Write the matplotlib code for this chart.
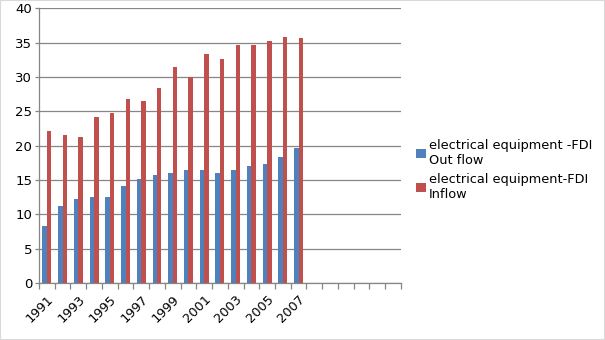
#!/usr/bin/env python3
"""Electrical equipment FDI out/in flow, clustered bars."""
import numpy as np
import matplotlib
matplotlib.use('Agg')
import matplotlib.pyplot as plt
from matplotlib.patches import Rectangle

years = [str(y) for y in range(1991, 2008)] + [''] * 6
outflow = [8.3, 11.2, 12.3, 12.6, 12.5, 14.2, 15.2, 15.7, 16.0, 16.4, 16.4,
           16.0, 16.5, 17.0, 17.3, 18.3, 19.7]
inflow = [22.2, 21.6, 21.3, 24.2, 24.8, 26.8, 26.5, 28.4, 31.4, 30.0, 33.3,
          32.6, 34.6, 34.6, 35.2, 35.8, 35.6]
labels = ['electrical equipment -FDI\nOut flow',
          'electrical equipment-FDI\nInflow']

BLUE = '#4F81BD'
RED = '#C0504D'
GRID = '#868686'

fig = plt.figure(figsize=(6.05, 3.4), dpi=100)
ax = fig.add_axes([0.0645, 0.167, 0.598, 0.809])

n = len(years)
x = np.arange(n)
w = 1 / 3.5
ax.bar(x[:len(outflow)] - w / 2, outflow, w, color=BLUE, label=labels[0], zorder=3)
ax.bar(x[:len(inflow)] + w / 2, inflow, w, color=RED, label=labels[1], zorder=3)

ax.set_xlim(-0.5, n - 0.5)
ax.set_ylim(0, 40)
ax.set_yticks(range(0, 41, 5))
ax.yaxis.grid(True, color=GRID, lw=0.9, zorder=0)

ax.set_xticks(x[::2])
ax.set_xticklabels(years[::2], rotation=45, ha='right', rotation_mode='anchor')
ax.set_xticks(np.arange(-0.5, n, 1), minor=True)
ax.tick_params(axis='x', which='major', length=0, labelsize=9.3, pad=7)
ax.tick_params(axis='x', which='minor', length=4, color=GRID, width=0.9)
ax.tick_params(axis='y', length=3, color=GRID, width=0.9, labelsize=9.5, pad=2)

for s in ['top', 'right']:
    ax.spines[s].set_visible(False)
for s in ['left', 'bottom']:
    ax.spines[s].set_color(GRID)
    ax.spines[s].set_linewidth(0.9)

ax.legend(loc='center left', bbox_to_anchor=(0.677, 0.5),
          bbox_transform=fig.transFigure, frameon=False,
          fontsize=9.3, handlelength=0.75, handleheight=0.75,
          handletextpad=0.25, labelspacing=0.5, borderpad=0)

fig.patches.append(Rectangle((0, 0), 1, 1, transform=fig.transFigure,
                             fill=False, edgecolor='#D9D9D9', lw=1.5))

plt.savefig('out.png', dpi=100)
plt.close()
